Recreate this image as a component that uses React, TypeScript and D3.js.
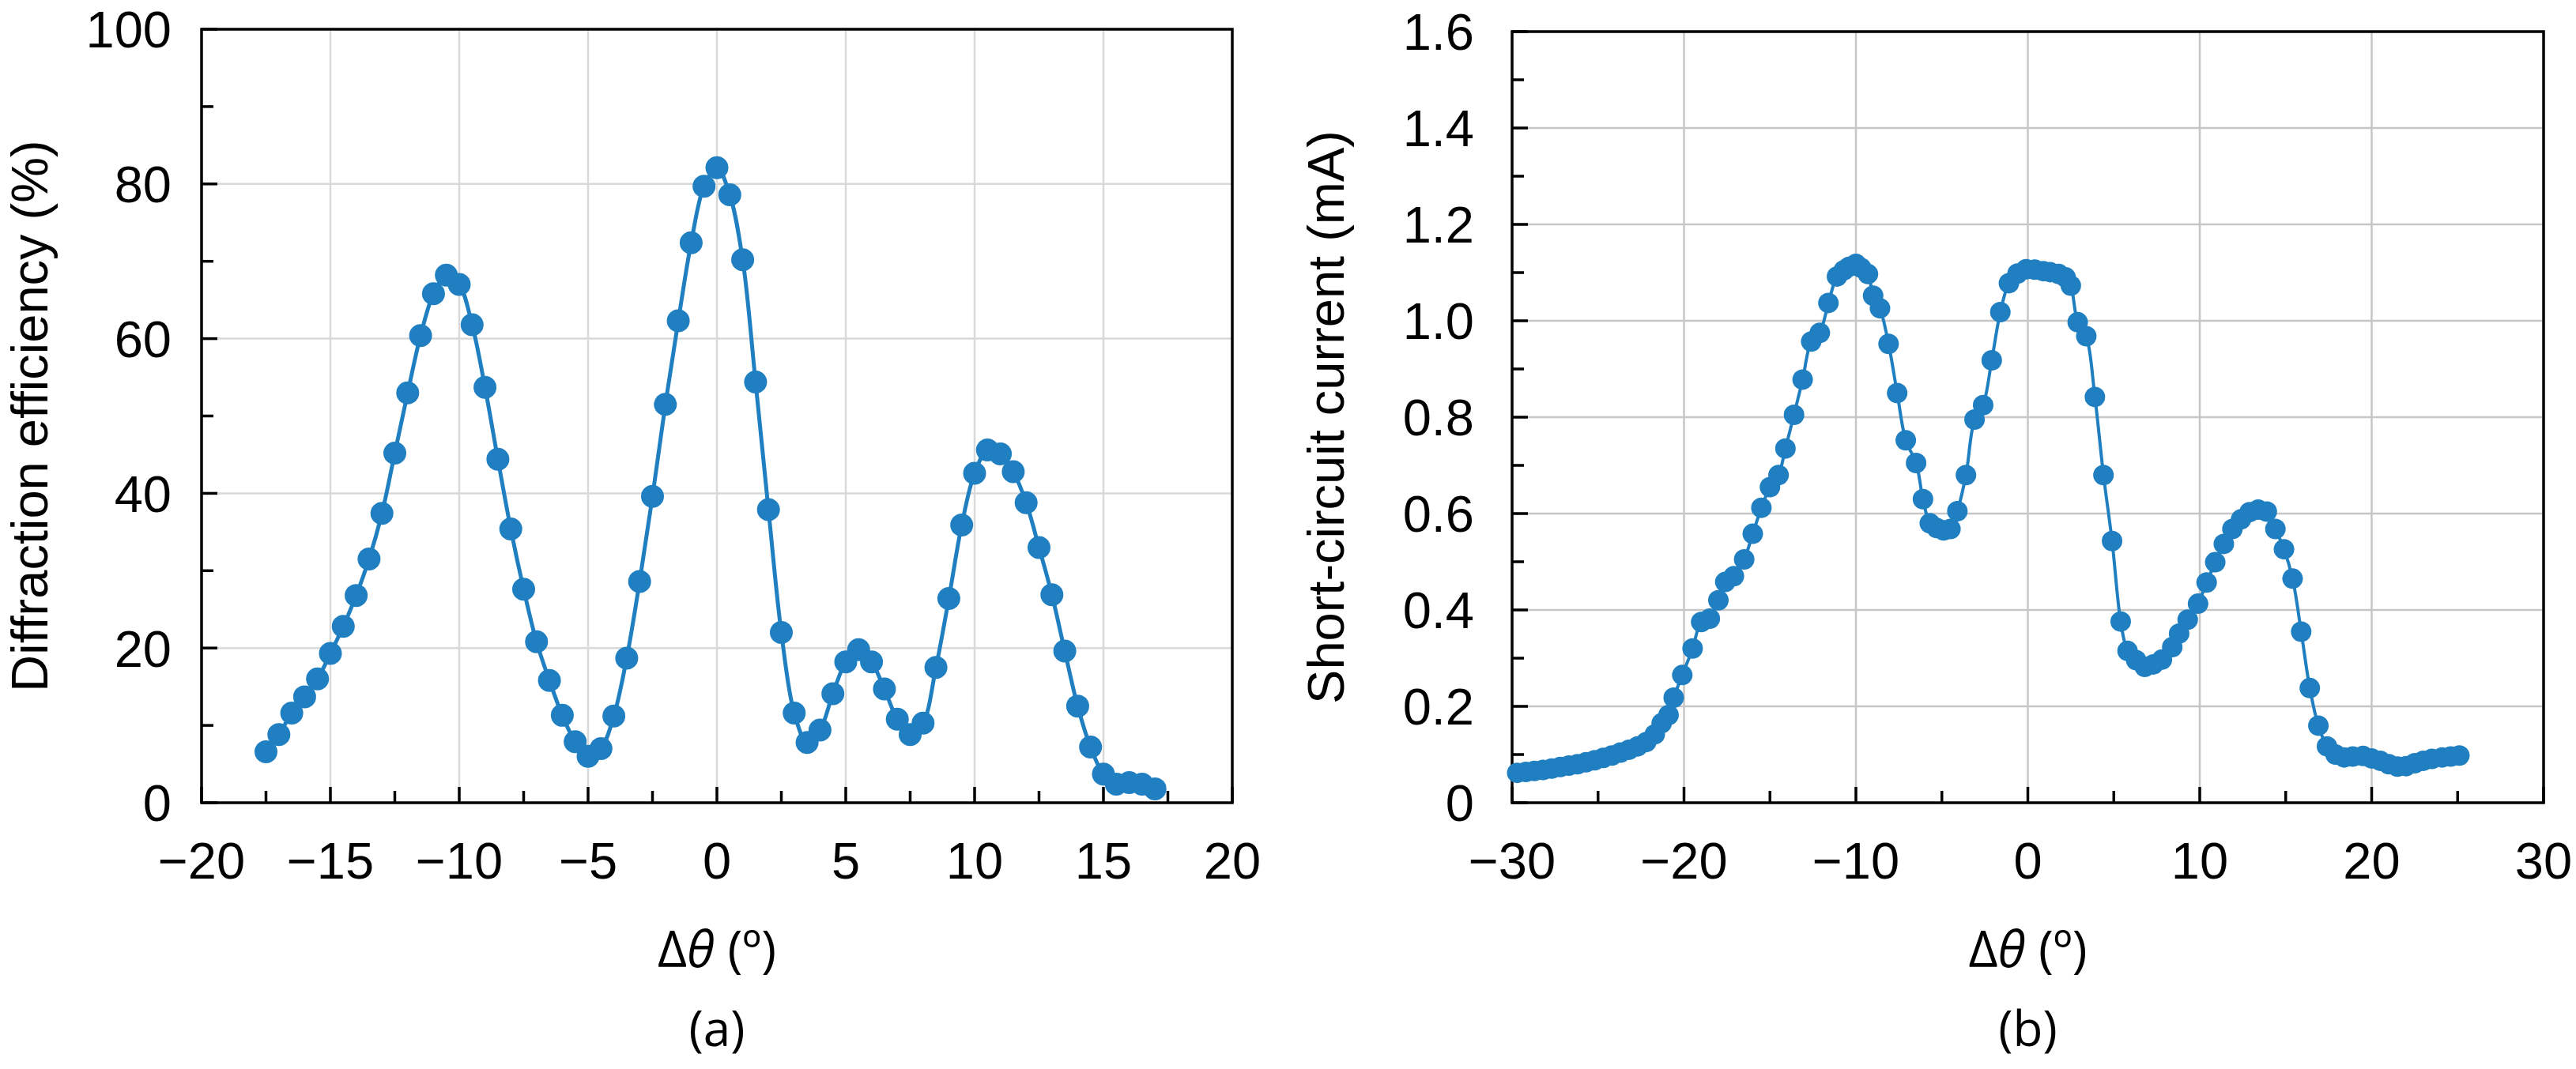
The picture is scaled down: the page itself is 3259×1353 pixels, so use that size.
import { useEffect, useRef } from 'react'
import * as d3 from 'd3'

// (a) diffraction efficiency vs angle
const angleA = [
  -17.5, -17, -16.5, -16, -15.5, -15, -14.5, -14, -13.5, -13,
  -12.5, -12, -11.5, -11, -10.5, -10, -9.5, -9, -8.5, -8,
  -7.5, -7, -6.5, -6, -5.5, -5, -4.5, -4, -3.5, -3,
  -2.5, -2, -1.5, -1, -0.5, 0, 0.5, 1, 1.5, 2,
  2.5, 3, 3.5, 4, 4.5, 5, 5.5, 6, 6.5, 7,
  7.5, 8, 8.5, 9, 9.5, 10, 10.5, 11, 11.5, 12,
  12.5, 13, 13.5, 14, 14.5, 15, 15.5, 16, 16.5, 17,
]
const efficiency = [
  6.6, 8.8, 11.6, 13.7, 16.0, 19.3, 22.8, 26.8, 31.5, 37.4,
  45.2, 53.0, 60.4, 65.8, 68.2, 67.0, 61.8, 53.7, 44.4, 35.4,
  27.6, 20.8, 15.8, 11.3, 7.9, 6.0, 7.0, 11.2, 18.7, 28.6,
  39.6, 51.5, 62.3, 72.4, 79.7, 82.1, 78.6, 70.2, 54.4, 37.9,
  22.0, 11.6, 7.8, 9.4, 14.1, 18.2, 19.8, 18.2, 14.7, 10.8,
  8.8, 10.3, 17.5, 26.4, 35.9, 42.6, 45.6, 45.1, 42.8, 38.8,
  33.0, 26.9, 19.6, 12.5, 7.2, 3.7, 2.4, 2.6, 2.4, 1.8,
]

// (b) short-circuit current vs angle
const angleB = [
  -29.7, -29.2, -28.7, -28.2, -27.7, -27.2, -26.7, -26.2, -25.7, -25.2,
  -24.7, -24.2, -23.7, -23.2, -22.7, -22.2, -21.7, -21.3, -20.9, -20.6,
  -20.1, -19.5, -19.0, -18.5, -18.0, -17.6, -17.1, -16.5, -16.0, -15.5,
  -15.0, -14.5, -14.1, -13.6, -13.1, -12.6, -12.1, -11.6, -11.1, -10.7,
  -10.4, -10.0, -9.7, -9.3, -9.0, -8.6, -8.1, -7.6, -7.1, -6.5,
  -6.1, -5.7, -5.3, -4.9, -4.5, -4.1, -3.6, -3.1, -2.6, -2.1,
  -1.6, -1.1, -0.6, -0.1, 0.4, 0.9, 1.3, 1.8, 2.2, 2.5,
  2.9, 3.4, 3.9, 4.4, 4.9, 5.4, 5.8, 6.3, 6.8, 7.3,
  7.8, 8.4, 8.8, 9.3, 9.9, 10.4, 10.9, 11.4, 11.9, 12.4,
  12.9, 13.4, 13.9, 14.4, 14.9, 15.4, 15.9, 16.4, 16.9, 17.4,
  17.9, 18.4, 18.9, 19.5, 20.0, 20.5, 21.0, 21.5, 22.0, 22.5,
  23.0, 23.5, 24.1, 24.6, 25.1,
]
const current = [
  0.062, 0.064, 0.066, 0.068, 0.071, 0.074, 0.077, 0.080, 0.084, 0.088,
  0.093, 0.098, 0.104, 0.110, 0.117, 0.126, 0.142, 0.165, 0.182, 0.218,
  0.265, 0.320, 0.375, 0.382, 0.420, 0.458, 0.470, 0.505, 0.558, 0.612,
  0.655, 0.680, 0.735, 0.805, 0.878, 0.957, 0.975, 1.037, 1.092, 1.105,
  1.112, 1.118, 1.110, 1.097, 1.052, 1.026, 0.952, 0.850, 0.752, 0.705,
  0.630, 0.580, 0.570, 0.565, 0.568, 0.605, 0.680, 0.795, 0.825, 0.918,
  1.018, 1.078, 1.098, 1.107, 1.106, 1.103, 1.101, 1.097, 1.090, 1.073,
  0.997, 0.968, 0.842, 0.680, 0.543, 0.376, 0.315, 0.296, 0.282, 0.287,
  0.297, 0.323, 0.351, 0.380, 0.413, 0.457, 0.499, 0.537, 0.568, 0.588,
  0.603, 0.608, 0.604, 0.568, 0.526, 0.465, 0.355, 0.238, 0.160, 0.117,
  0.100, 0.094, 0.096, 0.097, 0.092, 0.087, 0.080, 0.075, 0.076, 0.082,
  0.087, 0.091, 0.094, 0.096, 0.098,
]

// axis ticks
const xMajorA = [-20, -15, -10, -5, 0, 5, 10, 15, 20]
const xMinorA = [-17.5, -12.5, -7.5, -2.5, 2.5, 7.5, 12.5, 17.5]
const yMajorA = [0, 20, 40, 60, 80, 100]
const yMinorA = [10, 30, 50, 70, 90]
const xMajorB = [-30, -20, -10, 0, 10, 20, 30]
const xMinorB = [-25, -15, -5, 5, 15, 25]
const yMajorB = [0, 0.2, 0.4, 0.6, 0.8, 1.0, 1.2, 1.4, 1.6]
const yMinorB = [0.1, 0.3, 0.5, 0.7, 0.9, 1.1, 1.3, 1.5]

const WIDTH = 3259
const HEIGHT = 1353
const BLUE = '#1f7fc1'
const FONT = '"Liberation Sans", Arial, sans-serif'
const LABEL_FONT = '"Open Sans", Lato, sans-serif'

const minus = (s: string) => s.replace('-', '\u2212')

interface PanelConfig {
  left: number
  right: number
  top: number
  bottom: number
  xDomain: [number, number]
  yDomain: [number, number]
  xMajor: number[]
  xMinor: number[]
  yMajor: number[]
  yMinor: number[]
  yFormat: (v: number) => string
  xs: number[]
  ys: number[]
  radius: number
  lineWidth: number
  gridColor: string
  yTitle: string
  yTitleX: number
  yLabelGap: number
  caption: string
}

function drawPanel(svg: d3.Selection<SVGSVGElement, unknown, null, undefined>, c: PanelConfig) {
  const x = d3.scaleLinear().domain(c.xDomain).range([c.left, c.right])
  const y = d3.scaleLinear().domain(c.yDomain).range([c.bottom, c.top])
  const g = svg.append('g')

  // Grid
  g.selectAll('.vgrid')
    .data(c.xMajor.slice(1, -1))
    .join('line')
    .attr('x1', d => x(d)).attr('x2', d => x(d))
    .attr('y1', c.top).attr('y2', c.bottom)
    .attr('stroke', c.gridColor)
    .attr('stroke-width', 2.5)

  g.selectAll('.hgrid')
    .data(c.yMajor.slice(1, -1))
    .join('line')
    .attr('y1', d => y(d)).attr('y2', d => y(d))
    .attr('x1', c.left).attr('x2', c.right)
    .attr('stroke', c.gridColor)
    .attr('stroke-width', 2.5)

  // Frame
  g.append('rect')
    .attr('x', c.left).attr('y', c.top)
    .attr('width', c.right - c.left).attr('height', c.bottom - c.top)
    .attr('fill', 'none')
    .attr('stroke', '#000')
    .attr('stroke-width', 3.5)

  // Inward ticks
  const tick = (vals: number[], len: number) => {
    g.append('g').selectAll('line').data(vals).join('line')
      .attr('x1', d => x(d)).attr('x2', d => x(d))
      .attr('y1', c.bottom).attr('y2', c.bottom - len)
      .attr('stroke', '#000').attr('stroke-width', 3.5)
    }
  tick(c.xMajor, 20)
  tick(c.xMinor, 15)

  const ytick = (vals: number[], len: number) => {
    g.append('g').selectAll('line').data(vals).join('line')
      .attr('y1', d => y(d)).attr('y2', d => y(d))
      .attr('x1', c.left).attr('x2', c.left + len)
      .attr('stroke', '#000').attr('stroke-width', 3.5)
  }
  ytick(c.yMajor, 20)
  ytick(c.yMinor, 15)

  // Tick labels
  g.append('g').selectAll('text').data(c.xMajor).join('text')
    .attr('x', d => x(d))
    .attr('y', 1112)
    .attr('text-anchor', 'middle')
    .attr('font-family', FONT)
    .attr('font-size', 65)
    .text(d => minus(String(d)))

  g.append('g').selectAll('text').data(c.yMajor).join('text')
    .attr('x', c.left - c.yLabelGap)
    .attr('y', d => y(d))
    .attr('dy', '0.36em')
    .attr('text-anchor', 'end')
    .attr('font-family', FONT)
    .attr('font-size', 65)
    .text(d => c.yFormat(d))

  // Data line and markers
  const pts = c.xs.map((v, i) => [v, c.ys[i]] as [number, number])
  const line = d3.line<[number, number]>()
    .x(d => x(d[0]))
    .y(d => y(d[1]))
    .curve(d3.curveCatmullRom.alpha(0.5))

  g.append('path')
    .datum(pts)
    .attr('fill', 'none')
    .attr('stroke', BLUE)
    .attr('stroke-width', c.lineWidth)
    .attr('d', line)

  g.append('g').selectAll('circle').data(pts).join('circle')
    .attr('cx', d => x(d[0]))
    .attr('cy', d => y(d[1]))
    .attr('r', c.radius)
    .attr('fill', BLUE)

  // Titles
  g.append('text')
    .attr('transform', `translate(${c.yTitleX},${(c.top + c.bottom) / 2}) rotate(-90)`)
    .attr('text-anchor', 'middle')
    .attr('font-family', FONT)
    .attr('font-size', 65)
    .text(c.yTitle)

  const cx = (c.left + c.right) / 2
  const xt = g.append('text')
    .attr('x', cx)
    .attr('y', 1224)
    .attr('text-anchor', 'middle')
    .attr('font-family', LABEL_FONT)
    .attr('font-size', 64)
  xt.append('tspan').text('\u0394')
  xt.append('tspan').attr('font-style', 'italic').text('\u03b8')
  xt.append('tspan').text(' (\u00ba)')

  g.append('text')
    .attr('x', cx)
    .attr('y', 1324)
    .attr('text-anchor', 'middle')
    .attr('font-family', LABEL_FONT)
    .attr('font-size', 62)
    .text(c.caption)
}

export default function App() {
  const svgRef = useRef<SVGSVGElement>(null)

  useEffect(() => {
    if (!svgRef.current) return
    const svg = d3.select(svgRef.current)
    svg.selectAll('*').remove()

    drawPanel(svg, {
      left: 255, right: 1559, top: 37, bottom: 1016,
      xDomain: [-20, 20], yDomain: [0, 100],
      xMajor: xMajorA, xMinor: xMinorA, yMajor: yMajorA, yMinor: yMinorA,
      yFormat: d => String(d),
      xs: angleA, ys: efficiency,
      radius: 14.5, lineWidth: 5,
      gridColor: '#d9d9d9',
      yTitle: 'Diffraction efficiency (%)', yTitleX: 60, yLabelGap: 38,
      caption: '(a)',
    })

    drawPanel(svg, {
      left: 1913, right: 3218, top: 40, bottom: 1016,
      xDomain: [-30, 30], yDomain: [0, 1.6],
      xMajor: xMajorB, xMinor: xMinorB, yMajor: yMajorB, yMinor: yMinorB,
      yFormat: d => (d === 0 ? '0' : d.toFixed(1)),
      xs: angleB, ys: current,
      radius: 13, lineWidth: 4,
      gridColor: '#c6c6c6',
      yTitle: 'Short-circuit current (mA)', yTitleX: 1700, yLabelGap: 48,
      caption: '(b)',
    })
  }, [])

  return (
    <svg
      ref={svgRef}
      width={WIDTH}
      height={HEIGHT}
      style={{ position: 'absolute', left: 0, top: 0, background: '#fff' }}
    />
  )
}
